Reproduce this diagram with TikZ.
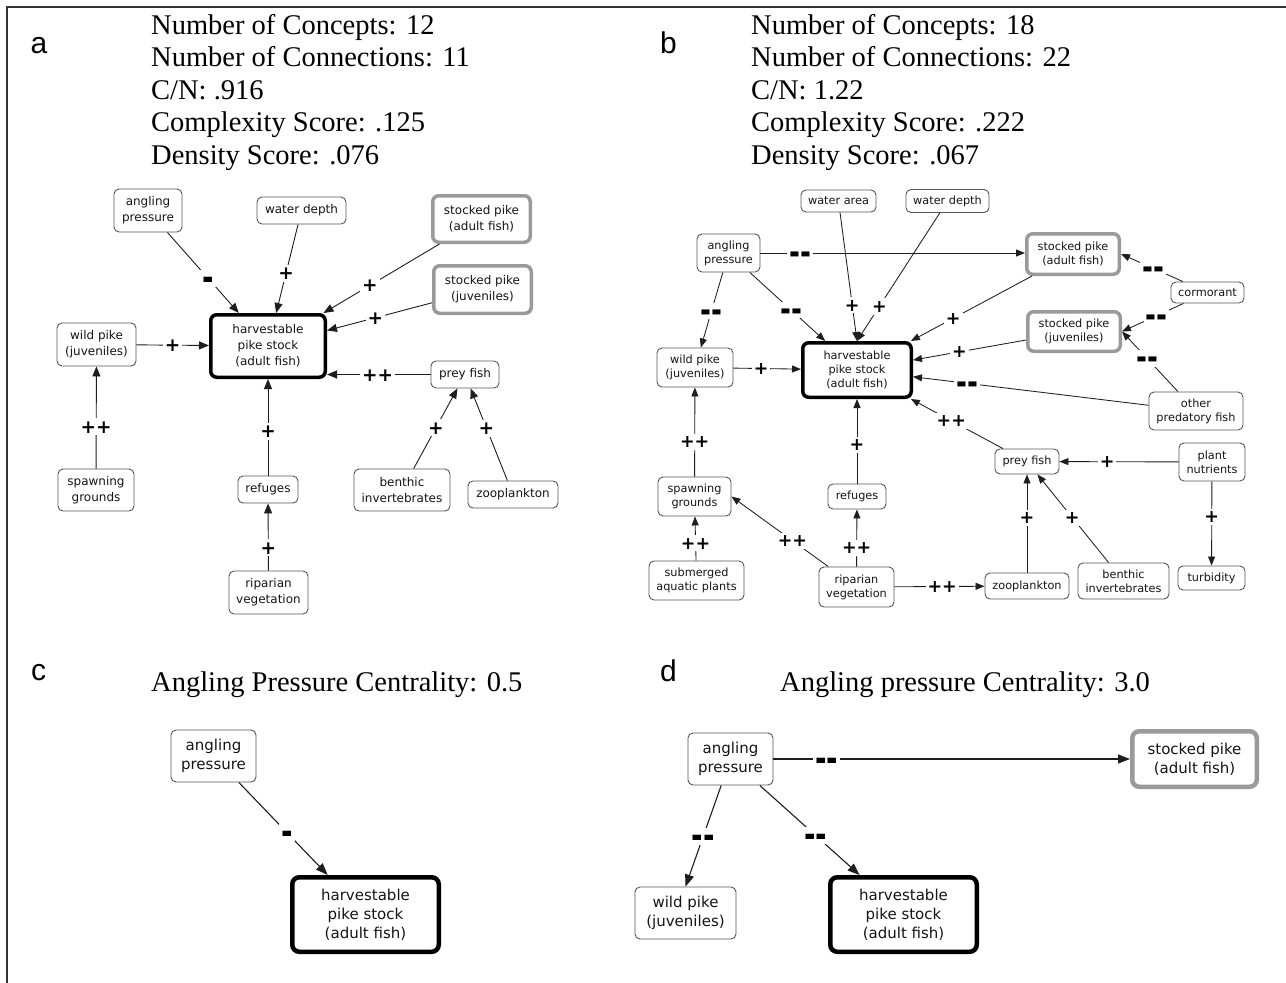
\documentclass[tikz,border=0pt]{standalone}
\usepackage{fontspec}
\usepackage{graphicx}
\usetikzlibrary{arrows.meta,calc}
\newfontfamily\boxfont{DejaVu Sans}
\newfontfamily\titlefont{Liberation Serif}
\newfontfamily\letterfont{Liberation Sans}
\definecolor{boxgray}{HTML}{555555}
\definecolor{stockgray}{HTML}{9A9A9A}
\definecolor{linegray}{HTML}{1E1E1E}
\definecolor{txtgray}{HTML}{151515}
\newcommand\dsh{\raisebox{-.3em}{\scalebox{1.5}[2]{-}}}
\tikzset{
  nb/.style={draw=boxgray, line width=0.9pt, rounded corners=5pt, fill=white, align=center, inner sep=0pt, text=txtgray},
  fa/.style={font=\boxfont\fontsize{12}{16}\selectfont},
  fb/.style={font=\boxfont\fontsize{11.3}{14}\selectfont},
  fc/.style={font=\boxfont\fontsize{15}{19}\selectfont},
  mainbox/.style={draw=black, line width=3.5pt, rounded corners=6pt},
  mainboxc/.style={draw=black, line width=4.5pt, rounded corners=7pt},
  stockbox/.style={draw=stockgray, line width=3.5pt, rounded corners=6pt},
  stockboxc/.style={draw=stockgray, line width=4.5pt, rounded corners=7pt},
  eda/.style={draw=linegray, line width=0.9pt, -{Triangle[length=10pt,width=8pt]}},
  edb/.style={draw=linegray, line width=0.85pt, -{Triangle[length=9pt,width=7pt]}},
  edc/.style={draw=linegray, line width=1.1pt, -{Triangle[length=12pt,width=9pt]}},
  sga/.style={fill=white, inner sep=2pt, text height=13pt, text depth=0pt, font=\boxfont\bfseries\fontsize{18.5}{18}\selectfont},
  sgb/.style={fill=white, inner sep=2pt, text height=12.2pt, text depth=0pt, font=\boxfont\bfseries\fontsize{17.5}{17}\selectfont},
  ttl/.style={anchor=base west, inner sep=0pt, font=\titlefont\fontsize{28.5}{33}\selectfont},
  ltr/.style={anchor=base west, inner sep=0pt, font=\letterfont\fontsize{30}{30}\selectfont},
  frame/.style={draw=black!80, line width=2pt}
}
\begin{document}
\begin{tikzpicture}[x=1pt,y=-1pt]
\useasboundingbox (0,0) rectangle (1286,983);
\fill[white] (0,0) rectangle (1286,983);
\draw[frame] (6.5,983) -- (6.5,6.5) -- (1286,6.5);

% ---------- titles ----------
\node[ltr] (la) at (30.5,53) {a};
\node[ltr] (lb) at (660,53) {b};
\node[ltr] (lc) at (31,680) {c};
\node[ltr] (ld) at (660,681) {d};

\node[ttl] (ta1) at (151,34.4) {Number of Concepts: 12};
\node[ttl] (ta2) at (151,66.9) {Number of Connections: 11};
\node[ttl] (ta3) at (151,99.4) {C/N: .916};
\node[ttl] (ta4) at (151,131.9) {Complexity Score: .125};
\node[ttl] (ta5) at (151,164.4) {Density Score: .076};

\node[ttl] (tb1) at (751,34.4) {Number of Concepts: 18};
\node[ttl] (tb2) at (751,66.9) {Number of Connections: 22};
\node[ttl] (tb3) at (751,99.4) {C/N: 1.22};
\node[ttl] (tb4) at (751,131.9) {Complexity Score: .222};
\node[ttl] (tb5) at (751,164.4) {Density Score: .067};

\node[ttl] (tc) at (151,691) {Angling Pressure Centrality: 0.5};
\node[ttl] (td) at (780,691) {Angling pressure Centrality: 3.0};

% ---------- panel a ----------
\node[nb,fa,minimum width=68,minimum height=43] (aap) at (148,210.5) {angling\\pressure};
\node[nb,fa,minimum width=89,minimum height=27] (awd) at (301.5,210.5) {water depth};
\node[nb,fa,mainbox,minimum width=114.5,minimum height=62.5] (ahv) at (268,346) {harvestable\\pike stock\\(adult fish)};
\node[nb,fa,minimum width=79,minimum height=43] (awp) at (96.5,344.5) {wild pike\\(juveniles)};
\node[nb,fa,minimum width=76,minimum height=42] (asg) at (96,490) {spawning\\grounds};
\node[nb,fa,minimum width=60,minimum height=27] (arf) at (268,489.5) {refuges};
\node[nb,fa,minimum width=79,minimum height=43] (arv) at (268.5,592.5) {riparian\\vegetation};
\node[nb,fa,stockbox,minimum width=97.5,minimum height=46.5] (asa) at (481.5,219) {stocked pike\\(adult fish)};
\node[nb,fa,stockbox,minimum width=97.5,minimum height=47.5] (asj) at (482.5,289.5) {stocked pike\\(juveniles)};
\node[nb,fa,minimum width=68,minimum height=27] (apf) at (465,374.5) {prey fish};
\node[nb,fa,minimum width=96,minimum height=42] (abi) at (402,490) {benthic\\invertebrates};
\node[nb,fa,minimum width=90,minimum height=27] (azp) at (513,494.5) {zooplankton};

\draw[eda] (aap) -- node[sga,pos=.57]{\dsh} (ahv);
\draw[eda] (awd) -- node[sga,pos=.55]{+} (ahv);
\draw[eda] (asa) -- node[sga,pos=.6]{+} (ahv);
\draw[eda] (asj) -- node[sga,pos=.54]{+} (ahv);
\draw[eda] (apf) -- node[sga,pos=.51]{++} (apf -| ahv.east);
\draw[eda] (abi) -- node[sga,pos=.51]{+} (apf);
\draw[eda] (azp) -- node[sga,pos=.57]{+} (apf);
\draw[eda] (awp) -- node[sga,pos=.5]{+} (ahv);
\draw[eda] (asg) -- node[sga,pos=.41]{++} (awp);
\draw[eda] (arf) -- node[sga,pos=.46]{+} (ahv);
\draw[eda] (arv) -- node[sga,pos=.34]{+} (arf);

% ---------- panel b ----------
\node[nb,fb,minimum width=75,minimum height=22] (bwa) at (838.5,201) {water area};
\node[nb,fb,minimum width=83,minimum height=23] (bwd) at (947.5,201) {water depth};
\node[nb,fb,minimum width=63,minimum height=38] (bap) at (728.5,253) {angling\\pressure};
\node[nb,fb,stockbox,minimum width=92.5,minimum height=40.5] (bsa) at (1073,254) {stocked pike\\(adult fish)};
\node[nb,fb,minimum width=73,minimum height=21] (bco) at (1207.5,292.5) {cormorant};
\node[nb,fb,stockbox,minimum width=92.5,minimum height=39.5] (bsj) at (1074,331.5) {stocked pike\\(juveniles)};
\node[nb,fb,minimum width=94,minimum height=38] (bop) at (1196,411) {other\\predatory fish};
\node[nb,fb,minimum width=76,minimum height=39] (bwp) at (695,367.5) {wild pike\\(juveniles)};
\node[nb,fb,mainbox,minimum width=108.5,minimum height=54.5] (bhv) at (857,370) {harvestable\\pike stock\\(adult fish)};
\node[nb,fb,minimum width=64,minimum height=25] (bpf) at (1027,461.5) {prey fish};
\node[nb,fb,minimum width=66,minimum height=38] (bpn) at (1212,462) {plant\\nutrients};
\node[nb,fb,minimum width=73,minimum height=39] (bsg) at (694.5,496.5) {spawning\\grounds};
\node[nb,fb,minimum width=58,minimum height=25] (brf) at (857,496.5) {refuges};
\node[nb,fb,minimum width=95,minimum height=39] (bsp) at (696.5,580.5) {submerged\\aquatic plants};
\node[nb,fb,minimum width=75,minimum height=40] (brv) at (856.5,587) {riparian\\vegetation};
\node[nb,fb,minimum width=84,minimum height=26] (bzp) at (1027,586) {zooplankton};
\node[nb,fb,minimum width=91,minimum height=36] (bbi) at (1123.5,581) {benthic\\invertebrates};
\node[nb,fb,minimum width=67,minimum height=24] (btb) at (1211.5,578) {turbidity};

\draw[edb] (bap) -- node[sgb,pos=.15]{\dsh\dsh} (bap -| bsa.west);
\draw[edb] (bap) -- node[sgb,pos=.51]{\dsh\dsh} (bwp);
\draw[edb] (bap) -- node[sgb,pos=.55]{\dsh\dsh} (bhv);
\draw[edb] (bwa) -- node[sgb,pos=.72]{+} (bhv.north);
\draw[edb] (bwd) -- node[sgb,pos=.73]{+} (bhv.north);
\draw[edb] (bsa) -- node[sgb,pos=.65]{+} (bhv);
\draw[edb] (bsj) -- node[sgb,pos=.59]{+} (bhv);
\draw[edb] (bop) -- node[sgb,pos=.77]{\dsh\dsh} (bhv);
\draw[edb] (bpf) -- node[sgb,pos=.56]{++} (bhv);
\draw[edb] (bco) -- node[sgb,pos=.48]{\dsh\dsh} (bsa.east);
\draw[edb] (bco) -- node[sgb,pos=.44]{\dsh\dsh} (bsj.east);
\draw[edb] (bop) -- node[sgb,pos=.55]{\dsh\dsh} (bsj.east);
\draw[edb] (bwp) -- node[sgb,pos=.41]{+} (bhv);
\draw[edb] (bsg) -- node[sgb,pos=.39]{++} (bwp);
\draw[edb] (brf) -- node[sgb,pos=.46]{+} (bhv);
\draw[edb] (bsp) -- node[sgb,pos=.4]{++} (bsg);
\draw[edb] (brv) -- node[sgb,pos=.37]{++} (bsg.east);
\draw[edb] (brv) -- node[sgb,pos=.33]{++} (brf);
\draw[edb] (brv) -- node[sgb,pos=.53]{++} (bzp);
\draw[edb] (bzp) -- node[sgb,pos=.56]{+} (bpf);
\draw[edb] (bbi) -- node[sgb,pos=.51]{+} (bpf);
\draw[edb] (bpn) -- node[sgb,pos=.6]{+} (bpf);
\draw[edb] (bpn) -- node[sgb,pos=.42]{+} (btb);

% ---------- panel c ----------
\node[nb,fc,minimum width=85,minimum height=52] (cap) at (213.5,756) {angling\\pressure};
\node[nb,fc,mainboxc,minimum width=146.5,minimum height=74.5] (chv) at (365.5,914.5) {harvestable\\pike stock\\(adult fish)};
\draw[edc] (cap) -- node[sga,pos=.54]{\dsh} (chv);

% ---------- panel d ----------
\node[nb,fc,minimum width=85,minimum height=52] (dap) at (730.5,759) {angling\\pressure};
\node[nb,fc,stockboxc,minimum width=124.5,minimum height=55.5] (dsa) at (1194.5,759) {stocked pike\\(adult fish)};
\node[nb,fc,minimum width=101,minimum height=52] (dwp) at (685.5,913) {wild pike\\(juveniles)};
\node[nb,fc,mainboxc,minimum width=146.5,minimum height=74.5] (dhv) at (903.5,914.5) {harvestable\\pike stock\\(adult fish)};
\draw[edc] (dap) -- node[sga,pos=.15]{\dsh\dsh} (dap -| dsa.west);
\draw[edc] (dap) -- node[sga,pos=.5]{\dsh\dsh} (dwp.north);
\draw[edc] (dap) -- node[sga,pos=.56]{\dsh\dsh} (dhv);
\end{tikzpicture}
\end{document}
